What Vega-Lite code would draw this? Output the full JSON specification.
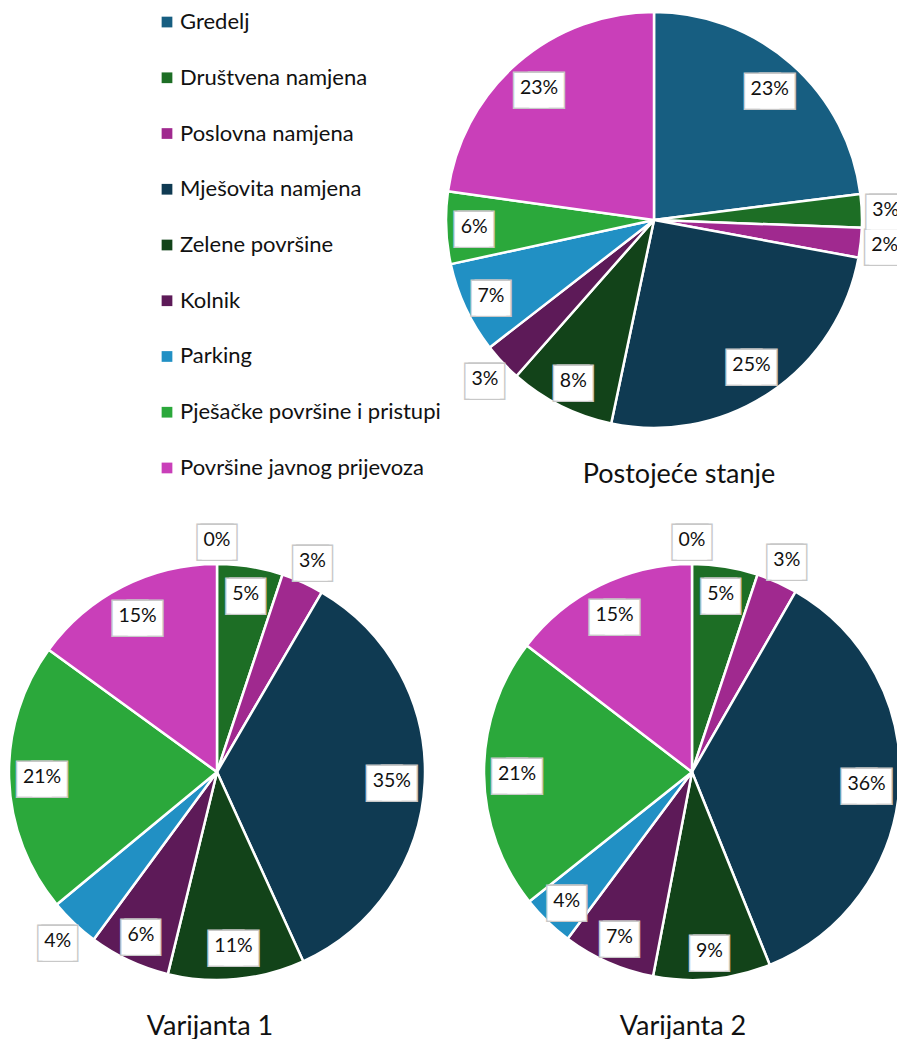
{
  "$schema": "https://vega.github.io/schema/vega-lite/v6.json",
  "padding": {"left": 7, "top": 10, "right": 0, "bottom": 0},
  "config": {"view": {"stroke": null}, "font": "Lato"},
  "datasets": {
    "d": [
      {"s": "P", "i": 0, "cat": "Gredelj", "value": 0.230},
      {"s": "P", "i": 1, "cat": "Društvena namjena", "value": 0.026},
      {"s": "P", "i": 2, "cat": "Poslovna namjena", "value": 0.023},
      {"s": "P", "i": 3, "cat": "Mješovita namjena", "value": 0.254},
      {"s": "P", "i": 4, "cat": "Zelene površine", "value": 0.082},
      {"s": "P", "i": 5, "cat": "Kolnik", "value": 0.030},
      {"s": "P", "i": 6, "cat": "Parking", "value": 0.071},
      {"s": "P", "i": 7, "cat": "Pješačke površine i pristupi", "value": 0.056},
      {"s": "P", "i": 8, "cat": "Površine javnog prijevoza", "value": 0.228},
      {"s": "V1", "i": 0, "cat": "Gredelj", "value": 0.0},
      {"s": "V1", "i": 1, "cat": "Društvena namjena", "value": 0.051},
      {"s": "V1", "i": 2, "cat": "Poslovna namjena", "value": 0.033},
      {"s": "V1", "i": 3, "cat": "Mješovita namjena", "value": 0.348},
      {"s": "V1", "i": 4, "cat": "Zelene površine", "value": 0.106},
      {"s": "V1", "i": 5, "cat": "Kolnik", "value": 0.063},
      {"s": "V1", "i": 6, "cat": "Parking", "value": 0.039},
      {"s": "V1", "i": 7, "cat": "Pješačke površine i pristupi", "value": 0.210},
      {"s": "V1", "i": 8, "cat": "Površine javnog prijevoza", "value": 0.150},
      {"s": "V2", "i": 0, "cat": "Gredelj", "value": 0.0},
      {"s": "V2", "i": 1, "cat": "Društvena namjena", "value": 0.051},
      {"s": "V2", "i": 2, "cat": "Poslovna namjena", "value": 0.032},
      {"s": "V2", "i": 3, "cat": "Mješovita namjena", "value": 0.356},
      {"s": "V2", "i": 4, "cat": "Zelene površine", "value": 0.091},
      {"s": "V2", "i": 5, "cat": "Kolnik", "value": 0.072},
      {"s": "V2", "i": 6, "cat": "Parking", "value": 0.041},
      {"s": "V2", "i": 7, "cat": "Pješačke površine i pristupi", "value": 0.211},
      {"s": "V2", "i": 8, "cat": "Površine javnog prijevoza", "value": 0.146}
    ]
  },
  "vconcat": [
    {
      "bounds": "flush",
      "spacing": 121,
      "hconcat": [
        {
          "width": 316,
          "height": 466,
          "data": {"name": "d"},
          "transform": [{"filter": "datum.s === 'P'"}],
          "encoding": {
            "y": {"field": "cat", "type": "nominal", "sort": null, "scale": {"type": "point", "padding": 0.18}, "axis": null}
          },
          "layer": [
            {
              "mark": {"type": "point", "shape": "square", "filled": true, "size": 115, "opacity": 1},
              "encoding": {
                "color": {"field": "cat", "type": "nominal", "legend": null,
                  "scale": {"domain": ["Gredelj", "Društvena namjena", "Poslovna namjena", "Mješovita namjena", "Zelene površine", "Kolnik", "Parking", "Pješačke površine i pristupi", "Površine javnog prijevoza"],
                            "range": ["#175e81", "#1d6e25", "#a0298f", "#0f3a52", "#124319", "#5d1a58", "#2190c4", "#2ba83b", "#c93fb9"]}}
              }
            },
            {
              "mark": {"type": "text", "align": "left", "baseline": "middle", "dx": 13, "fontSize": 22, "font": "Lato", "fill": "#111"},
              "encoding": {"text": {"field": "cat", "type": "nominal"}}
            }
          ]
        },
        {
          "width": 416,
          "height": 416,
          "title": {"text": "Postojeće stanje", "orient": "bottom", "offset": 33, "fontSize": 27, "font": "Lato", "fontWeight": "normal", "color": "#111", "dx": 25},
          "data": {"name": "d"},
          "transform": [{"filter": "datum.s === 'P'"}],
          "encoding": {
            "theta": {"field": "value", "type": "quantitative", "stack": true},
            "order": {"field": "i", "type": "quantitative"},
            "detail": {"field": "cat", "type": "nominal"}
          },
          "layer": [
            {"mark": {"type": "arc", "outerRadius": 208, "stroke": "#ffffff", "strokeWidth": 2.5, "strokeJoin": "round"},
             "encoding": {"color": {"field": "cat", "type": "nominal", "legend": null,
               "scale": {"domain": ["Gredelj", "Društvena namjena", "Poslovna namjena", "Mješovita namjena", "Zelene površine", "Kolnik", "Parking", "Pješačke površine i pristupi", "Površine javnog prijevoza"],
                         "range": ["#175e81", "#1d6e25", "#a0298f", "#0f3a52", "#124319", "#5d1a58", "#2190c4", "#2ba83b", "#c93fb9"]}}}},
            {
              "encoding": {
                "radius": {"field": "value", "type": "quantitative", "scale": {"type": "linear", "domain": [0.0395, 0.0405, 0.094, 0.096], "range": [232, 180, 180, 175], "clamp": true, "zero": false, "nice": false}}
              },
              "layer": [
                {"mark": {"type": "text", "dx": -2, "font": "DejaVu Sans", "fontSize": 45, "baseline": "middle", "align": "center", "fill": "#c8c8c8", "stroke": "#c8c8c8", "strokeWidth": 3},
                 "encoding": {"text": {"condition": {"test": "datum.value < 0.095", "value": "■"}, "value": ""}}},
                {"mark": {"type": "text", "dx": 2, "font": "DejaVu Sans", "fontSize": 45, "baseline": "middle", "align": "center", "fill": "#c8c8c8", "stroke": "#c8c8c8", "strokeWidth": 3},
                 "encoding": {"text": {"condition": {"test": "datum.value < 0.095", "value": "■"}, "value": ""}}},
                {"mark": {"type": "text", "dx": -7.5, "font": "DejaVu Sans", "fontSize": 45, "baseline": "middle", "align": "center", "fill": "#c8c8c8", "stroke": "#c8c8c8", "strokeWidth": 3},
                 "encoding": {"text": {"condition": {"test": "datum.value >= 0.095", "value": "■"}, "value": ""}}},
                {"mark": {"type": "text", "dx": 7.5, "font": "DejaVu Sans", "fontSize": 45, "baseline": "middle", "align": "center", "fill": "#c8c8c8", "stroke": "#c8c8c8", "strokeWidth": 3},
                 "encoding": {"text": {"condition": {"test": "datum.value >= 0.095", "value": "■"}, "value": ""}}},
                {"mark": {"type": "text", "dx": -2, "font": "DejaVu Sans", "fontSize": 45, "baseline": "middle", "align": "center", "fill": "#ffffff"},
                 "encoding": {"text": {"condition": {"test": "datum.value < 0.095", "value": "■"}, "value": ""}}},
                {"mark": {"type": "text", "dx": 2, "font": "DejaVu Sans", "fontSize": 45, "baseline": "middle", "align": "center", "fill": "#ffffff"},
                 "encoding": {"text": {"condition": {"test": "datum.value < 0.095", "value": "■"}, "value": ""}}},
                {"mark": {"type": "text", "dx": -7.5, "font": "DejaVu Sans", "fontSize": 45, "baseline": "middle", "align": "center", "fill": "#ffffff"},
                 "encoding": {"text": {"condition": {"test": "datum.value >= 0.095", "value": "■"}, "value": ""}}},
                {"mark": {"type": "text", "dx": 7.5, "font": "DejaVu Sans", "fontSize": 45, "baseline": "middle", "align": "center", "fill": "#ffffff"},
                 "encoding": {"text": {"condition": {"test": "datum.value >= 0.095", "value": "■"}, "value": ""}}},
                {"mark": {"type": "text", "font": "Lato", "fontSize": 19.5, "baseline": "middle", "align": "center", "fill": "#111"},
                 "encoding": {"text": {"field": "value", "type": "quantitative", "format": ".0%"}}}
              ]
            }
          ]
        }
      ]
    },
    {
      "bounds": "flush",
      "spacing": 59,
      "hconcat": [
        {
          "width": 416,
          "height": 416,
          "title": {"text": "Varijanta 1", "orient": "bottom", "offset": 33, "fontSize": 27, "font": "Lato", "fontWeight": "normal", "color": "#111", "dx": -7},
          "data": {"name": "d"},
          "transform": [{"filter": "datum.s === 'V1'"}],
          "encoding": {
            "theta": {"field": "value", "type": "quantitative", "stack": true},
            "order": {"field": "i", "type": "quantitative"},
            "detail": {"field": "cat", "type": "nominal"}
          },
          "layer": [
            {"mark": {"type": "arc", "outerRadius": 208, "stroke": "#ffffff", "strokeWidth": 2.5, "strokeJoin": "round"},
             "encoding": {"color": {"field": "cat", "type": "nominal", "legend": null,
               "scale": {"domain": ["Gredelj", "Društvena namjena", "Poslovna namjena", "Mješovita namjena", "Zelene površine", "Kolnik", "Parking", "Pješačke površine i pristupi", "Površine javnog prijevoza"],
                         "range": ["#175e81", "#1d6e25", "#a0298f", "#0f3a52", "#124319", "#5d1a58", "#2190c4", "#2ba83b", "#c93fb9"]}}}},
            {
              "encoding": {
                "radius": {"field": "value", "type": "quantitative", "scale": {"type": "linear", "domain": [0.0395, 0.0405, 0.094, 0.096], "range": [232, 180, 180, 175], "clamp": true, "zero": false, "nice": false}}
              },
              "layer": [
                {"mark": {"type": "text", "dx": -2, "font": "DejaVu Sans", "fontSize": 45, "baseline": "middle", "align": "center", "fill": "#c8c8c8", "stroke": "#c8c8c8", "strokeWidth": 3},
                 "encoding": {"text": {"condition": {"test": "datum.value < 0.095", "value": "■"}, "value": ""}}},
                {"mark": {"type": "text", "dx": 2, "font": "DejaVu Sans", "fontSize": 45, "baseline": "middle", "align": "center", "fill": "#c8c8c8", "stroke": "#c8c8c8", "strokeWidth": 3},
                 "encoding": {"text": {"condition": {"test": "datum.value < 0.095", "value": "■"}, "value": ""}}},
                {"mark": {"type": "text", "dx": -7.5, "font": "DejaVu Sans", "fontSize": 45, "baseline": "middle", "align": "center", "fill": "#c8c8c8", "stroke": "#c8c8c8", "strokeWidth": 3},
                 "encoding": {"text": {"condition": {"test": "datum.value >= 0.095", "value": "■"}, "value": ""}}},
                {"mark": {"type": "text", "dx": 7.5, "font": "DejaVu Sans", "fontSize": 45, "baseline": "middle", "align": "center", "fill": "#c8c8c8", "stroke": "#c8c8c8", "strokeWidth": 3},
                 "encoding": {"text": {"condition": {"test": "datum.value >= 0.095", "value": "■"}, "value": ""}}},
                {"mark": {"type": "text", "dx": -2, "font": "DejaVu Sans", "fontSize": 45, "baseline": "middle", "align": "center", "fill": "#ffffff"},
                 "encoding": {"text": {"condition": {"test": "datum.value < 0.095", "value": "■"}, "value": ""}}},
                {"mark": {"type": "text", "dx": 2, "font": "DejaVu Sans", "fontSize": 45, "baseline": "middle", "align": "center", "fill": "#ffffff"},
                 "encoding": {"text": {"condition": {"test": "datum.value < 0.095", "value": "■"}, "value": ""}}},
                {"mark": {"type": "text", "dx": -7.5, "font": "DejaVu Sans", "fontSize": 45, "baseline": "middle", "align": "center", "fill": "#ffffff"},
                 "encoding": {"text": {"condition": {"test": "datum.value >= 0.095", "value": "■"}, "value": ""}}},
                {"mark": {"type": "text", "dx": 7.5, "font": "DejaVu Sans", "fontSize": 45, "baseline": "middle", "align": "center", "fill": "#ffffff"},
                 "encoding": {"text": {"condition": {"test": "datum.value >= 0.095", "value": "■"}, "value": ""}}},
                {"mark": {"type": "text", "font": "Lato", "fontSize": 19.5, "baseline": "middle", "align": "center", "fill": "#111"},
                 "encoding": {"text": {"field": "value", "type": "quantitative", "format": ".0%"}}}
              ]
            }
          ]
        },
        {
          "width": 416,
          "height": 416,
          "title": {"text": "Varijanta 2", "orient": "bottom", "offset": 33, "fontSize": 27, "font": "Lato", "fontWeight": "normal", "color": "#111", "dx": -9},
          "data": {"name": "d"},
          "transform": [{"filter": "datum.s === 'V2'"}],
          "encoding": {
            "theta": {"field": "value", "type": "quantitative", "stack": true},
            "order": {"field": "i", "type": "quantitative"},
            "detail": {"field": "cat", "type": "nominal"}
          },
          "layer": [
            {"mark": {"type": "arc", "outerRadius": 208, "stroke": "#ffffff", "strokeWidth": 2.5, "strokeJoin": "round"},
             "encoding": {"color": {"field": "cat", "type": "nominal", "legend": null,
               "scale": {"domain": ["Gredelj", "Društvena namjena", "Poslovna namjena", "Mješovita namjena", "Zelene površine", "Kolnik", "Parking", "Pješačke površine i pristupi", "Površine javnog prijevoza"],
                         "range": ["#175e81", "#1d6e25", "#a0298f", "#0f3a52", "#124319", "#5d1a58", "#2190c4", "#2ba83b", "#c93fb9"]}}}},
            {
              "encoding": {
                "radius": {"field": "value", "type": "quantitative", "scale": {"type": "linear", "domain": [0.0395, 0.0405, 0.094, 0.096], "range": [232, 180, 180, 175], "clamp": true, "zero": false, "nice": false}}
              },
              "layer": [
                {"mark": {"type": "text", "dx": -2, "font": "DejaVu Sans", "fontSize": 45, "baseline": "middle", "align": "center", "fill": "#c8c8c8", "stroke": "#c8c8c8", "strokeWidth": 3},
                 "encoding": {"text": {"condition": {"test": "datum.value < 0.095", "value": "■"}, "value": ""}}},
                {"mark": {"type": "text", "dx": 2, "font": "DejaVu Sans", "fontSize": 45, "baseline": "middle", "align": "center", "fill": "#c8c8c8", "stroke": "#c8c8c8", "strokeWidth": 3},
                 "encoding": {"text": {"condition": {"test": "datum.value < 0.095", "value": "■"}, "value": ""}}},
                {"mark": {"type": "text", "dx": -7.5, "font": "DejaVu Sans", "fontSize": 45, "baseline": "middle", "align": "center", "fill": "#c8c8c8", "stroke": "#c8c8c8", "strokeWidth": 3},
                 "encoding": {"text": {"condition": {"test": "datum.value >= 0.095", "value": "■"}, "value": ""}}},
                {"mark": {"type": "text", "dx": 7.5, "font": "DejaVu Sans", "fontSize": 45, "baseline": "middle", "align": "center", "fill": "#c8c8c8", "stroke": "#c8c8c8", "strokeWidth": 3},
                 "encoding": {"text": {"condition": {"test": "datum.value >= 0.095", "value": "■"}, "value": ""}}},
                {"mark": {"type": "text", "dx": -2, "font": "DejaVu Sans", "fontSize": 45, "baseline": "middle", "align": "center", "fill": "#ffffff"},
                 "encoding": {"text": {"condition": {"test": "datum.value < 0.095", "value": "■"}, "value": ""}}},
                {"mark": {"type": "text", "dx": 2, "font": "DejaVu Sans", "fontSize": 45, "baseline": "middle", "align": "center", "fill": "#ffffff"},
                 "encoding": {"text": {"condition": {"test": "datum.value < 0.095", "value": "■"}, "value": ""}}},
                {"mark": {"type": "text", "dx": -7.5, "font": "DejaVu Sans", "fontSize": 45, "baseline": "middle", "align": "center", "fill": "#ffffff"},
                 "encoding": {"text": {"condition": {"test": "datum.value >= 0.095", "value": "■"}, "value": ""}}},
                {"mark": {"type": "text", "dx": 7.5, "font": "DejaVu Sans", "fontSize": 45, "baseline": "middle", "align": "center", "fill": "#ffffff"},
                 "encoding": {"text": {"condition": {"test": "datum.value >= 0.095", "value": "■"}, "value": ""}}},
                {"mark": {"type": "text", "font": "Lato", "fontSize": 19.5, "baseline": "middle", "align": "center", "fill": "#111"},
                 "encoding": {"text": {"field": "value", "type": "quantitative", "format": ".0%"}}}
              ]
            }
          ]
        }
      ]
    }
  ],
  "spacing": 29
}
